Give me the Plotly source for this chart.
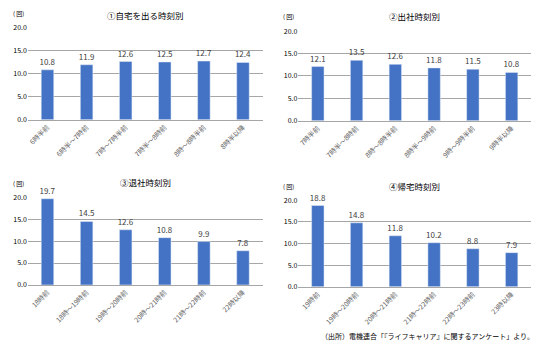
import plotly.graph_objects as go

W, H = 539, 354

cats1 = ["6時半前", "6時半～7時前", "7時～7時半前", "7時半～8時前", "8時～8時半前", "8時半以降"]
vals1 = [10.8, 11.9, 12.6, 12.5, 12.7, 12.4]
cats2 = ["7時半前", "7時半～8時前", "8時～8時半前", "8時半～9時前", "9時～9時半前", "9時半以降"]
vals2 = [12.1, 13.5, 12.6, 11.8, 11.5, 10.8]
cats3 = ["18時前", "18時～19時前", "19時～20時前", "20時～21時前", "21時～22時前", "22時以降"]
vals3 = [19.7, 14.5, 12.6, 10.8, 9.9, 7.8]
cats4 = ["19時前", "19時～20時前", "20時～21時前", "21時～22時前", "22時～23時前", "23時以降"]
vals4 = [18.8, 14.8, 11.8, 10.2, 8.8, 7.9]
titles = ["①自宅を出る時刻別", "②出社時刻別", "③退社時刻別", "④帰宅時刻別"]
yticks = [0, 5, 10, 15, 20]
source = "（出所）電機連合「『ライフキャリア』に関するアンケート」より。"

FONT = "Noto Sans CJK JP"
BLUE = "#4472C4"

# pixel boxes: (x0, x1, y_zero, y_twenty, title_offset)
boxes = [(27, 262, 117, 22, 13), (298, 531, 118, 26, 16), (27, 262, 287, 197, 16), (298, 531, 289, 200, 15)]
data = [(cats1, vals1), (cats2, vals2), (cats3, vals3), (cats4, vals4)]

fig = go.Figure()
annotations = []
for i, ((cats, vals), (x0, x1, yb, yt, toff), title) in enumerate(zip(data, boxes, titles)):
    n = "" if i == 0 else str(i + 1)
    fig.add_trace(go.Bar(
        x=cats, y=vals, marker_color=BLUE, width=0.32,
        text=[f"{v:.1f}" for v in vals], textposition="outside", cliponaxis=False,
        constraintext="none",
        textfont=dict(size=8, color="#404040", family=FONT),
        xaxis="x" + n, yaxis="y" + n, showlegend=False))
    fig.update_layout(**{
        "xaxis" + n: dict(domain=[x0 / W, x1 / W], anchor="y" + n, tickangle=-45,
                          tickfont=dict(size=6.8, color="#595959", family=FONT),
                          showline=True, linecolor="#a6a6a6", ticks="", fixedrange=True),
        "yaxis" + n: dict(domain=[(H - yb) / H, (H - yt) / H], anchor="x" + n, range=[0, 20],
                          tickvals=yticks, tickformat=".1f",
                          tickfont=dict(size=7, color="#000000", family=FONT),
                          showgrid=True, gridcolor="#a6a6a6", gridwidth=1, zeroline=False,
                          ticks="", fixedrange=True),
    })
    cx = (x0 + x1) / 2 / W
    annotations.append(dict(text=title, x=cx, y=(H - yt + toff) / H, xref="paper", yref="paper",
                            showarrow=False, font=dict(size=8.5, color="#000000", family=FONT),
                            xanchor="center", yanchor="middle"))
    annotations.append(dict(text="( 回)", x=(x0 - 17) / W, y=(H - yt + 8) / H, xref="paper", yref="paper",
                            showarrow=False, font=dict(size=6, color="#000000", family=FONT),
                            xanchor="left", yanchor="bottom"))

annotations.append(dict(text=source, x=536 / W, y=(H - 340) / H, xref="paper", yref="paper",
                        showarrow=False, font=dict(size=7, color="#000000", family=FONT),
                        xanchor="right", yanchor="middle"))

fig.update_layout(width=W, height=H, margin=dict(l=0, r=0, t=0, b=0),
                  paper_bgcolor="white", plot_bgcolor="white",
                  annotations=annotations, bargap=0.68,
                  font=dict(family=FONT))

fig.write_html("out.html")
